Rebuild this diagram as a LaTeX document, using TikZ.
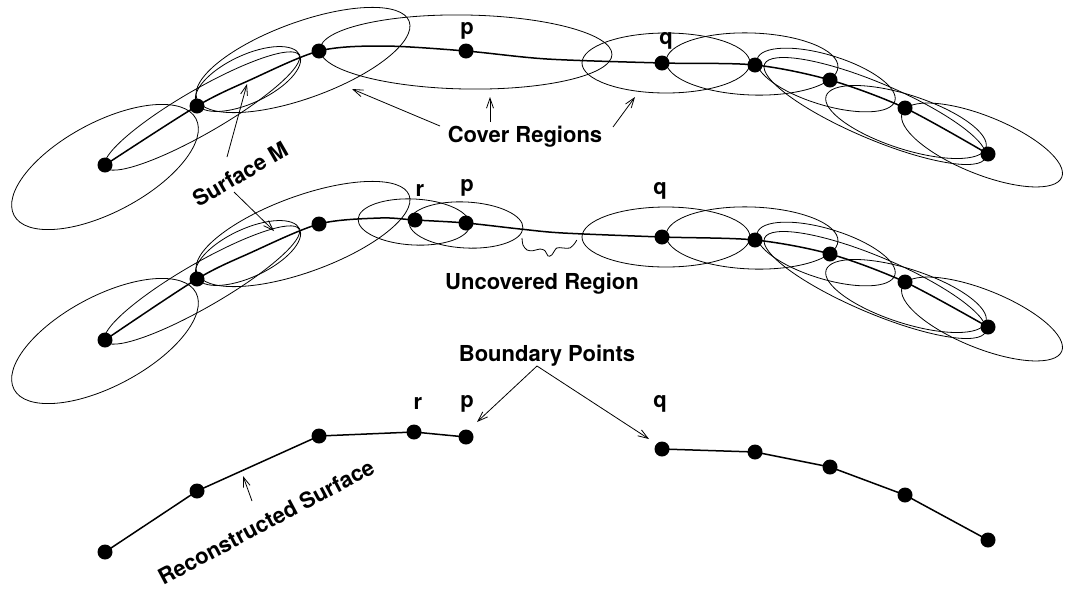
\documentclass[tikz,border=0pt]{standalone}
\usepackage{fontspec}
\setmainfont{TeX Gyre Heros}
\usetikzlibrary{arrows.meta}
% one cover region: centre, x radius, y radius, tilt
\newcommand\coverell[4]{\draw[region, rotate around={#4:(#1)}] (#1) ellipse [x radius=#2pt, y radius=#3pt];}
\begin{document}
\begin{tikzpicture}[x=1pt,y=-1pt,
  region/.style={line width=0.8pt},
  surf/.style={line width=1.5pt, line join=round},
  dot/.style={circle, fill=black, inner sep=0pt, minimum size=15pt},
  lbl/.style={font=\fontsize{22}{26}\selectfont\bfseries, inner sep=0pt},
  ptr/.style={line width=0.8pt, -{Straight Barb[length=10pt,width=7pt]}},
]
\useasboundingbox (0,0) rectangle (1065,590);

% ---------- top row: sampled surface M with its cover regions ----------
\coordinate (a1) at (105,165); \coordinate (a2) at (197,106);
\coordinate (a3) at (319,51);  \coordinate (a4) at (466,51);
\coordinate (a5) at (662,63);  \coordinate (a6) at (755,65);
\coordinate (a7) at (830,80);  \coordinate (a8) at (905,108);
\coordinate (a9) at (988,154);

\coverell{105,167}{103}{45}{28}
\coverell{202,111}{112}{22}{30}
\coverell{248,79}{57}{24}{25}
\coverell{303,60}{113}{38}{20}
\coverell{466,52}{146}{37}{-1}
\coverell{666,63}{84}{30}{0}
\coverell{752,64}{86}{31}{-2}
\coverell{826,80}{72}{25}{-17}
\coverell{875,111}{120}{28}{-23}
\coverell{906,122}{84}{27}{-18}
\coverell{982,145}{86}{29}{-22}

\draw[surf] plot[smooth, tension=0.5] coordinates {(a1) (a2) (250,80) (a3) (383,46) (a4) (547,59) (a5) (a6) (a7) (a8) (a9)};
\foreach \n in {1,...,9} \node[dot] (da\n) at (a\n) {};

\node[lbl, anchor=base] (lpa) at (467,34) {p};
\node[lbl, anchor=base] (lqa) at (666,44) {q};

% ---------- middle row: cover with a gap ----------
\coordinate (b1) at (105,340); \coordinate (b2) at (197,279);
\coordinate (b3) at (319,224); \coordinate (b4) at (415,220);
\coordinate (b5) at (466,223); \coordinate (b6) at (662,237);
\coordinate (b7) at (755,240); \coordinate (b8) at (830,254);
\coordinate (b9) at (905,282); \coordinate (b10) at (988,327);

\coverell{105,341}{103}{45}{28}
\coverell{202,285}{112}{22}{30}
\coverell{248,253}{57}{24}{25}
\coverell{303,234}{113}{38}{20}
\coverell{414,222}{56}{23}{-3}
\coverell{466,225}{57}{23}{-3}
\coverell{666,237}{84}{30}{0}
\coverell{752,238}{86}{31}{-2}
\coverell{826,254}{72}{25}{-17}
\coverell{875,285}{120}{28}{-23}
\coverell{906,296}{84}{27}{-18}
\coverell{982,319}{86}{29}{-22}

\draw[surf] plot[smooth, tension=0.5] coordinates {(b1) (b2) (250,253) (b3) (380,218) (b4) (b5) (520,229) (563,233) (b6) (b7) (b8) (b9) (b10)};
\foreach \n in {1,...,10} \node[dot] (db\n) at (b\n) {};

\node[lbl, anchor=base] (lrb) at (420,196) {r};
\node[lbl, anchor=base] (lpb) at (467,191) {p};
\node[lbl, anchor=base] (lqb) at (660,194) {q};

% brace under the uncovered stretch
\draw[line width=0.8pt] plot[smooth, tension=0.5] coordinates {(522,238) (523,245) (527,250) (533,250.7) (540,249) (545,250.7) (548,256) (551.7,255) (556.7,248) (563,248) (570,248) (575,243) (576.7,240)};

% ---------- bottom row: reconstructed surface ----------
\coordinate (c1) at (105,552); \coordinate (c2) at (197,491);
\coordinate (c3) at (319,436); \coordinate (c4) at (414,432);
\coordinate (c5) at (466,437); \coordinate (c6) at (662,449);
\coordinate (c7) at (755,452); \coordinate (c8) at (830,467);
\coordinate (c9) at (905,495); \coordinate (c10) at (988,540);

\draw[surf] (c1) -- (c2) -- (c3) -- (c4) -- (c5);
\draw[surf] (c6) -- (c7) -- (c8) -- (c9) -- (c10);
\foreach \n in {1,...,10} \node[dot] (dc\n) at (c\n) {};

\node[lbl, anchor=base] (lrc) at (418,409) {r};
\node[lbl, anchor=base] (lpc) at (467,407) {p};
\node[lbl, anchor=base] (lqc) at (660,407) {q};

% ---------- labels and pointers ----------
\node[lbl] (cover) at (525,137) {Cover Regions};
\node[lbl] (uncov) at (542,284) {Uncovered Region};
\node[lbl] (bound) at (547,356) {Boundary Points};
\node[lbl, rotate=30] (surfm) at (240,174) {Surface M};
\node[lbl, rotate=28] (recon) at (266,522) {Reconstructed Surface};

\coordinate (smA) at (227,157); \coordinate (smAt) at (247,84);
\coordinate (smB) at (234,192); \coordinate (smBt) at (274,231);
\coordinate (crA) at (440,126); \coordinate (crAt) at (352,89);
\coordinate (crB) at (490,122); \coordinate (crBt) at (490,97);
\coordinate (crC) at (613,127); \coordinate (crCt) at (635,97);
\coordinate (bp)  at (537,366);
\coordinate (bpP) at (477,422); \coordinate (bpQ) at (649,439);
\coordinate (rs)  at (252,501); \coordinate (rst) at (243,476);

\draw[ptr] (smA) -- (smAt);
\draw[ptr] (smB) -- (smBt);
\draw[ptr] (crA) -- (crAt);
\draw[ptr] (crB) -- (crBt);
\draw[ptr] (crC) -- (crCt);
\draw[ptr] (bp) -- (bpP);
\draw[ptr] (bp) -- (bpQ);
\draw[ptr] (rs) -- (rst);
\end{tikzpicture}
\end{document}
